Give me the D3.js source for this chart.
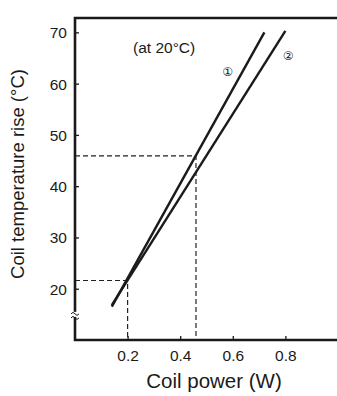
<!DOCTYPE html>
<html>
<head>
<meta charset="utf-8">
<script src="https://cdn.jsdelivr.net/npm/d3@7"></script>
<style>
  body { margin: 0; background: #fff; }
  text { font-family: "Liberation Sans", Arial, sans-serif; fill: #1a1a1a; }
</style>
</head>
<body>
<svg id="chart" width="337" height="396"></svg>
<script>
// Coil temperature rise vs coil power.

const xTicks = [0.2, 0.4, 0.6, 0.8];
const yTicks = [20, 30, 40, 50, 60, 70];

// two characteristic lines, [power W, temperature rise °C]
const line1 = [[0.14, 16.5], [0.72, 70]];
const line2 = [[0.14, 16.8], [0.80, 70.3]];
const lineLabels = ["\u2460", "\u2461"];

// reading guides (dashed) at two operating points
const guidePoints = [[0.2, 21.6], [0.46, 45.9]];

const noteText = "(at 20°C)";

const svg = d3.select("#chart");

// plot area
const plotL = 75, plotR = 338, plotT = 18, plotB = 340;

const x = d3.scaleLinear().domain([0, 1]).range([plotL, plotR]);
const y = d3.scaleLinear().domain([10, 72.8]).range([plotB, plotT]);

// dashed guides first so the lines sit on top
svg.append("g")
    .selectAll("path")
    .data(guidePoints)
    .enter().append("path")
    .attr("d", d => `M${x(0)},${y(d[1])}H${x(d[0])}V${y(10)}`)
    .attr("fill", "none")
    .attr("stroke", "#222")
    .attr("stroke-width", 1.2)
    .attr("stroke-dasharray", "5,3");

// characteristic lines
const lineGen = d3.line().x(d => x(d[0])).y(d => y(d[1]));
svg.append("g")
    .selectAll("path")
    .data([line1, line2])
    .enter().append("path")
    .attr("d", lineGen)
    .attr("fill", "none")
    .attr("stroke", "#1a1a1a")
    .attr("stroke-width", 2.4);

// circled line labels
svg.selectAll(".lbl")
    .data([[0.58, 61.5], [0.81, 64.6]])
    .enter().append("text")
    .attr("class", "lbl")
    .attr("x", d => x(d[0])).attr("y", d => y(d[1]))
    .attr("text-anchor", "middle")
    .style("font-family", "'DejaVu Sans', sans-serif")
    .style("font-size", "12px")
    .style("fill", "#1a1a1a")
    .text((d, i) => lineLabels[i]);

// note
svg.append("text")
    .attr("x", 133).attr("y", 53)
    .style("font-size", "15.5px")
    .text(noteText);

// axes
const xAxis = d3.axisBottom(x).tickValues(xTicks).tickSize(-4).tickPadding(10)
    .tickFormat(d3.format(".1f"));
const yAxis = d3.axisLeft(y).tickValues(yTicks).tickSize(-4).tickPadding(8);

const gx = svg.append("g").attr("transform", `translate(0,${plotB})`).call(xAxis);
const gy = svg.append("g").attr("transform", `translate(${plotL},0)`).call(yAxis);

[gx, gy].forEach(g => {
    g.select(".domain").remove();
    g.selectAll(".tick line").attr("stroke", "#1a1a1a").attr("stroke-width", 1.3);
    g.selectAll(".tick text").style("font-size", "15.5px").attr("fill", "#1a1a1a")
        .style("font-family", "'Liberation Sans', Arial, sans-serif");
});
gy.selectAll(".tick text").attr("dy", "0.35em");

// frame: left, top and bottom edges
svg.append("path")
    .attr("d", `M${plotR},${plotT}H${plotL}V${plotB}H${plotR}`)
    .attr("fill", "none")
    .attr("stroke", "#1a1a1a")
    .attr("stroke-width", 2.6);

// axis break mark on the y axis
const by = y(14.9);
svg.append("rect")
    .attr("x", plotL - 4).attr("y", by - 3).attr("width", 8).attr("height", 5)
    .attr("fill", "#fff");
[-2.5, 1.5].forEach(off => {
    svg.append("path")
        .attr("d", `M${plotL - 4},${by + off + 1.5} q2,-3 4,0 t4,0`)
        .attr("fill", "none")
        .attr("stroke", "#1a1a1a")
        .attr("stroke-width", 1);
});

// axis titles
svg.append("text")
    .attr("x", 214).attr("y", 388)
    .attr("text-anchor", "middle")
    .style("font-size", "20.5px")
    .text("Coil power (W)");

svg.append("text")
    .attr("transform", "translate(24,174) rotate(-90)")
    .attr("text-anchor", "middle")
    .style("font-size", "18.5px")
    .text("Coil temperature rise (°C)");
</script>
</body>
</html>
